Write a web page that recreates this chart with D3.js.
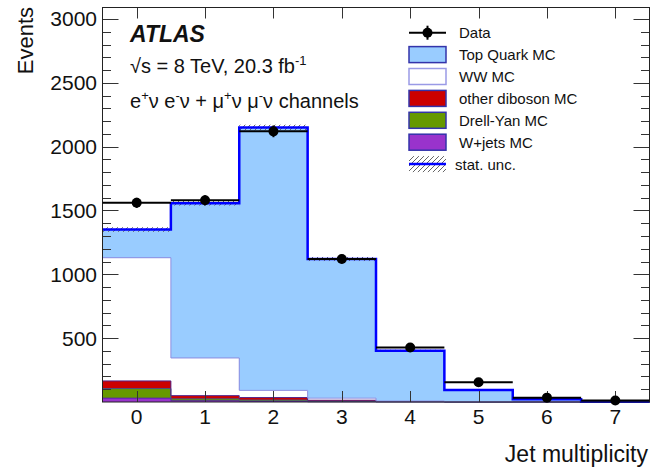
<!DOCTYPE html>
<html><head><meta charset="utf-8">
<script src="https://cdn.jsdelivr.net/npm/d3@7"></script>
<style>
body{margin:0;background:#fff}
text{font-family:Arial,"Liberation Sans",sans-serif;fill:#111}
</style>
</head><body>
<svg id="c" width="651" height="469"></svg>
<script>
// ---- data ----
const bins = [0,1,2,3,4,5,6,7];
const dataEvents   = [1560,1580,2120,1120,427,154,34,12];
const wjets        = [30,10,5,2,1,0,0,0];
const drellYan     = [75,15,10,4,1,0,0,0];
const otherDiboson = [60,25,20,8,2,1,0,0];
const wwMC         = [965,295,56,16,3,1,0,0];
const topQuark     = [221,1212,2059,1090,394,92,21,2];
const mcStatUnc    = [18,18,22,16,8,4,2,1];
const yTicks = [500,1000,1500,2000,2500,3000];
const xTicks = [0,1,2,3,4,5,6,7];
const legendLabels = ["Data","Top Quark MC","WW MC","other diboson MC","Drell-Yan MC","W+jets MC","stat. unc."];

const layers = [
  {name:"W+jets MC", vals:wjets, fill:"#9933cc", line:"#5522aa"},
  {name:"Drell-Yan MC", vals:drellYan, fill:"#669900", line:"#445588"},
  {name:"other diboson MC", vals:otherDiboson, fill:"#cc0000", line:"#552288"},
  {name:"WW MC", vals:wwMC, fill:"#ffffff", line:"#8c8ce0"},
  {name:"Top Quark MC", vals:topQuark, fill:"#99ccff", line:"#3333cc"}
];

const svg = d3.select("#c");
const L=102.5, R=649.5, T=7.5, B=402;
const x = d3.scaleLinear().domain([-0.5,7.5]).range([L,R]);
const y = d3.scaleLinear().domain([0,3090]).range([B,T]);

// hatch pattern
const defs = svg.append("defs");
const pat = defs.append("pattern").attr("id","hatch").attr("patternUnits","userSpaceOnUse")
  .attr("width",5).attr("height",5);
pat.append("path").attr("d","M0,5 L5,0 M-1,1 L1,-1 M4,6 L6,4").attr("stroke","#666").attr("stroke-width",1);

// stacked layers
let cum = bins.map(()=>0);
const g = svg.append("g");
layers.forEach(ly=>{
  const lo = cum.slice();
  const hi = cum.map((c,i)=>c+ly.vals[i]);
  ly.lo=lo; ly.hi=hi;
  g.selectAll(null).data(bins).enter().append("rect")
    .attr("x",d=>x(d-0.5)).attr("width",d=>x(d+0.5)-x(d-0.5))
    .attr("y",(d,i)=>y(hi[i])).attr("height",(d,i)=>Math.max(0,y(lo[i])-y(hi[i])))
    .attr("fill",ly.fill).attr("shape-rendering","crispEdges");
  cum = hi;
});
function stepPath(vals){
  let p="";
  vals.forEach((v,i)=>{
    const x0=x(bins[i]-0.5), x1=x(bins[i]+0.5), yy=y(v);
    p += (i===0?"M":"L")+x0+","+yy+"L"+x1+","+yy;
  });
  return p;
}
layers.forEach(ly=>{
  g.append("path").attr("d",stepPath(ly.hi)).attr("fill","none")
   .attr("stroke",ly.line).attr("stroke-width",1);
});
const total = cum;
// stat unc band
g.selectAll(null).data(bins).enter().append("rect")
  .attr("x",d=>x(d-0.5)).attr("width",d=>x(d+0.5)-x(d-0.5))
  .attr("y",(d,i)=>y(total[i]+mcStatUnc[i])).attr("height",(d,i)=>y(total[i]-mcStatUnc[i])-y(total[i]+mcStatUnc[i]))
  .attr("fill","url(#hatch)");
g.append("path").attr("d",stepPath(total)).attr("fill","none").attr("stroke","#0000ff").attr("stroke-width",2.5);

// axes / frame
const ax = svg.append("g").attr("stroke","#333").attr("stroke-width",1);
const minor = d3.range(100,3090,100);
minor.forEach(v=>{
  const len = v%500===0?16:8.5;
  const yy = Math.round(y(v))+0.5;
  ax.append("line").attr("x1",L).attr("x2",L+len).attr("y1",yy).attr("y2",yy);
  ax.append("line").attr("x1",R).attr("x2",R-len).attr("y1",yy).attr("y2",yy);
});
xTicks.forEach(v=>{
  const xx = Math.round(x(v))+0.5;
  ax.append("line").attr("x1",xx).attr("x2",xx).attr("y1",B).attr("y2",B-11);
  ax.append("line").attr("x1",xx).attr("x2",xx).attr("y1",T).attr("y2",T+11);
});
svg.append("rect").attr("x",L).attr("y",T).attr("width",R-L).attr("height",B-T)
  .attr("fill","none").attr("stroke","#222").attr("stroke-width",1);

svg.selectAll(null).data(yTicks).enter().append("text")
  .attr("x",97).attr("y",d=>y(d)+7.5).attr("text-anchor","end").attr("font-size",21).text(d=>d);
svg.selectAll(null).data(xTicks).enter().append("text")
  .attr("x",d=>x(d)).attr("y",424).attr("text-anchor","middle").attr("font-size",21).text(d=>d);
svg.append("text").attr("transform","translate(33,7) rotate(-90)").attr("text-anchor","end")
  .attr("font-size",22).text("Events");
svg.append("text").attr("x",648).attr("y",461.5).attr("text-anchor","end")
  .attr("font-size",23).text("Jet multiplicity");

// data
const dg = svg.append("g");
bins.forEach((b,i)=>{
  const v=dataEvents[i], e=Math.sqrt(v);
  dg.append("line").attr("x1",x(b-0.5)).attr("x2",x(b+0.5)).attr("y1",y(v)).attr("y2",y(v))
    .attr("stroke","#000").attr("stroke-width",2);
  dg.append("line").attr("x1",x(b)).attr("x2",x(b)).attr("y1",y(v+e)).attr("y2",y(Math.max(0,v-e)))
    .attr("stroke","#000").attr("stroke-width",2);
  dg.append("circle").attr("cx",x(b)).attr("cy",y(v)).attr("r",5).attr("fill","#000");
});

// labels
svg.append("text").attr("x",130).attr("y",41.5).attr("font-size",23).attr("font-weight","bold")
  .attr("font-style","italic").text("ATLAS");
const t2 = svg.append("text").attr("x",130).attr("y",72.5).attr("font-size",20);
t2.append("tspan").text("√s = 8 TeV, 20.3 fb");
t2.append("tspan").attr("font-size",13).attr("dy",-8).text("-1");
const t3 = svg.append("text").attr("x",130).attr("y",100).attr("font-size",20);
const parts = [["e",""],["+","s"],["ν e",""],["-","s"],["ν + μ",""],["+","s"],["ν μ",""],["-","s"],["ν channels",""]];
parts.forEach(p=>{
  if(p[1]==="s") t3.append("tspan").attr("font-size",13).attr("dy",-8).text(p[0]);
  else t3.append("tspan").attr("font-size",20).attr("dy",t3.selectAll("tspan").size()?8:0).text(p[0]);
});

// legend
const lg = svg.append("g");
const rowY = i=>32.7+i*21.9;
const lx=409, lw=37, lh=16;
// Data
lg.append("line").attr("x1",lx).attr("x2",lx+lw).attr("y1",rowY(0)).attr("y2",rowY(0)).attr("stroke","#000").attr("stroke-width",2);
lg.append("line").attr("x1",lx+lw/2).attr("x2",lx+lw/2).attr("y1",rowY(0)-7).attr("y2",rowY(0)+7).attr("stroke","#000").attr("stroke-width",2);
lg.append("circle").attr("cx",lx+lw/2).attr("cy",rowY(0)).attr("r",5).attr("fill","#000");
const legLayers = layers.slice().reverse();
legLayers.forEach((ly,k)=>{
  lg.append("rect").attr("x",lx).attr("y",rowY(k+1)-lh/2).attr("width",lw).attr("height",lh)
    .attr("fill",ly.fill).attr("stroke",ly.name==="WW MC"?"#9a9ae6":"#3333aa").attr("stroke-width",1.5);
});
lg.append("rect").attr("x",lx).attr("y",rowY(6)-8).attr("width",lw).attr("height",16).attr("fill","url(#hatch)");
lg.append("line").attr("x1",lx).attr("x2",lx+lw).attr("y1",rowY(6)).attr("y2",rowY(6)).attr("stroke","#0000ff").attr("stroke-width",2.5);
legendLabels.forEach((t,i)=>{
  lg.append("text").attr("x",i===6?455:459).attr("y",rowY(i)+5.5).attr("font-size",15).text(t);
});
</script>
</body></html>
